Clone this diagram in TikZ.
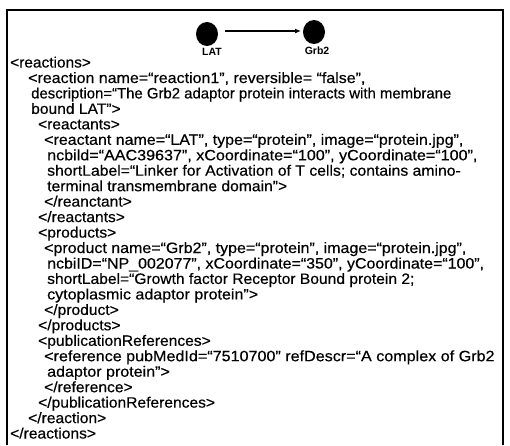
\documentclass[tikz,border=0pt]{standalone}
\usepackage{fontspec}
\usepackage{graphicx}
\setmainfont{Liberation Sans}
\newfontfamily\codefont{Liberation Sans}[FakeBold=0.4]
\usetikzlibrary{arrows.meta}
\newcommand\sx[2]{\scalebox{#1}[1]{#2}}
\begin{document}
\begin{tikzpicture}[x=1pt,y=-1pt,
  code/.style={inner sep=0pt,anchor=base west,font=\codefont\fontsize{15}{16}\selectfont},
  lbl/.style={inner sep=0pt,font=\bfseries\fontsize{10.5}{12}\selectfont},
  frame/.style={line width=1.4pt}]
\useasboundingbox (0,0) rectangle (510,445);
\draw[frame] (7,445) -- (7,10) -- (503,10) -- (503,445);
\fill (207,34) ellipse (11 and 12) coordinate (lat);
\fill (314,32) ellipse (11 and 12) coordinate (grb);
\node[lbl] (latl) at (212,52) {LAT};
\node[lbl] (grbl) at (317,51) {Grb2};
\coordinate (a1) at (225,31);
\coordinate (a2) at (301,31);
\draw[line width=1.6pt,-{Latex[length=6pt,width=5pt]}] (a1) -- (a2);
\node[code] (l1)  at (10,67.5) {\sx{1.03}{<reactions>}};
\node[code] (l2)  at (28,83) {\sx{1.066}{<reaction name=“reaction1”, reversible= “false”,}};
\node[code] (l3)  at (31,98.4) {\sx{0.995}{description=“The Grb2 adaptor protein interacts with membrane}};
\node[code] (l4)  at (31,113.9) {\sx{1.04}{bound LAT”>}};
\node[code] (l5)  at (38,129.3) {\sx{1.03}{<reactants>}};
\node[code] (l6)  at (44,144.8) {\sx{1.066}{<reactant name=“LAT”, type=“protein”, image=“protein.jpg”,}};
\node[code] (l7)  at (47,160.3) {\sx{1.074}{ncbild=“AAC39637”, xCoordinate=“100”, yCoordinate=“100”,}};
\node[code] (l8)  at (47,175.7) {\sx{1.05}{shortLabel=“Linker for Activation of T cells; contains amino-}};
\node[code] (l9)  at (47,191.2) {\sx{1.045}{terminal transmembrane domain”>}};
\node[code] (l10) at (44,206.6) {\sx{1.04}{</reanctant>}};
\node[code] (l11) at (38,222.1) {\sx{1.04}{</reactants>}};
\node[code] (l12) at (38,237.6) {\sx{1.04}{<products>}};
\node[code] (l13) at (44,253.0) {\sx{1.066}{<product name=“Grb2”, type=“protein”, image=“protein.jpg”,}};
\node[code] (l14) at (47,268.5) {\sx{1.064}{ncbiID=“NP\_002077”, xCoordinate=“350”, yCoordinate=“100”,}};
\node[code] (l15) at (47,283.9) {\sx{1.04}{shortLabel=“Growth factor Receptor Bound protein 2;}};
\node[code] (l16) at (47,299.4) {\sx{1.07}{cytoplasmic adaptor protein”>}};
\node[code] (l17) at (44,314.9) {\sx{1.04}{</product>}};
\node[code] (l18) at (38,330.3) {\sx{1.04}{</products>}};
\node[code] (l19) at (38,345.8) {\sx{1.04}{<publicationReferences>}};
\node[code] (l20) at (44,361.2) {\sx{1.075}{<reference pubMedId=“7510700” refDescr=“A complex of Grb2}};
\node[code] (l21) at (47,376.7) {\sx{1.07}{adaptor protein”>}};
\node[code] (l22) at (44,392.2) {\sx{1.04}{</reference>}};
\node[code] (l23) at (38,407.6) {\sx{1.04}{</publicationReferences>}};
\node[code] (l24) at (28,423.1) {\sx{1.04}{</reaction>}};
\node[code] (l25) at (10,438.5) {\sx{1.04}{</reactions>}};
\end{tikzpicture}
\end{document}
